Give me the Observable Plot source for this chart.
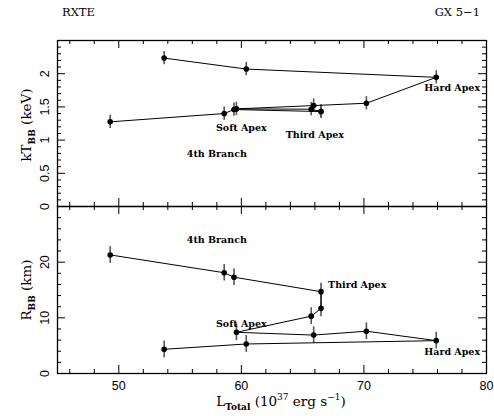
<!DOCTYPE html>
<html><head><meta charset="utf-8">
<script src="https://cdn.jsdelivr.net/npm/d3@7"></script>
<script src="https://cdn.jsdelivr.net/npm/@observablehq/plot@0.6"></script>
<style>
body{margin:0;background:#fff;}
#wrap{position:relative;width:494px;height:416px;overflow:hidden;background:#fff;}
#wrap svg{position:absolute;left:0;}
.t{position:absolute;font-family:"DejaVu Serif",serif;font-size:11.5px;color:#000;white-space:nowrap;line-height:1;}
.big{font-size:13.5px;}
.t sub,.t sup{font-size:9px;}
.t sub{font-weight:bold;vertical-align:-4px;}
.t sup{vertical-align:6px;}
.rot{transform:translate(-50%,-50%) rotate(-90deg);}
.ctr{transform:translate(-50%,-50%);}
</style></head><body><div id="wrap">
<div class="t" style="left:62px;top:7px;">RXTE</div>
<div class="t" style="right:14px;top:7px;">GX 5−1</div>
<div class="t big rot" style="left:28px;top:125px;">kT<sub>BB</sub> (keV)</div>
<div class="t big rot" style="left:28px;top:290px;">R<sub>BB</sub> (km)</div>
<div class="t big ctr" style="left:281px;top:402px;">L<sub>Total</sub> (10<sup>37</sup> erg s<sup>−1</sup>)</div>
</div>
<script>
// Data (sequence along the track)
const lum   = [53.7, 60.4, 75.9, 70.2, 65.9, 59.6, 65.7, 66.5, 66.5, 59.4, 58.6, 49.3];
const kT    = [2.235, 2.07, 1.945, 1.555, 1.52, 1.47, 1.465, 1.43, 1.43, 1.46, 1.40, 1.275];
const kTerr = [0.1, 0.1, 0.1, 0.1, 0.1, 0.1, 0.1, 0.1, 0.1, 0.1, 0.1, 0.1];
const rBB   = [4.35, 5.3, 5.9, 7.6, 6.9, 7.4, 10.3, 11.7, 14.7, 17.3, 18.1, 21.3];
const rErr  = [1.5, 1.5, 1.5, 1.5, 1.5, 1.5, 1.5, 1.5, 1.5, 1.5, 1.5, 1.5];

// Annotations
const noteText = ["Hard Apex", "Soft Apex", "Third Apex", "4th Branch"];
const noteXTop = [77.2, 60.0, 66.0, 58.0];
const noteYTop = [1.78, 1.19, 1.085, 0.785];
const noteXBot = [77.2, 60.0, 69.45, 58.0];
const noteYBot = [3.95, 8.9, 15.9, 24.0];

// Tick values
const xMajor = [50, 60, 70, 80];
const xMinor = [46, 48, 52, 54, 56, 58, 62, 64, 66, 68, 72, 74, 76, 78];
const yTopMajor = [0, 0.5, 1, 1.5, 2];
const yTopMinor = [0.1,0.2,0.3,0.4,0.6,0.7,0.8,0.9,1.1,1.2,1.3,1.4,1.6,1.7,1.8,1.9,2.1,2.2,2.3,2.4];
const yBotMajor = [0, 10, 20];
const yBotMinor = [2,4,6,8,12,14,16,18,22,24,26,28];

const W = 494, ML = 57, MR = 8;
const FW = W - ML - MR;
const sans = "Liberation Sans, Arial, sans-serif";
const serif = "DejaVu Serif, serif";

const pts = lum.map((x, i) => ({x, kT: kT[i], kTe: kTerr[i], r: rBB[i], re: rErr[i]}));
const notesTop = noteText.map((t, i) => ({t, x: noteXTop[i], y: noteYTop[i]}));
const notesBot = noteText.map((t, i) => ({t, x: noteXBot[i], y: noteYBot[i]}));

function panel({height, mt, mb, yDomain, yMajor, yMinor, yKey, eKey, notes, xLabels}) {
  const FH = height - mt - mb;
  const marks = [
    Plot.frame({stroke: "black", strokeWidth: 1.3}),
    Plot.tickX(xMajor, {x: d => d, insetTop: FH - 8, stroke: "black"}),
    Plot.tickX(xMajor, {x: d => d, insetBottom: FH - 8, stroke: "black"}),
    Plot.tickX(xMinor, {x: d => d, insetTop: FH - 4, stroke: "black"}),
    Plot.tickX(xMinor, {x: d => d, insetBottom: FH - 4, stroke: "black"}),
    Plot.tickY(yMajor, {y: d => d, insetRight: FW - 8, stroke: "black"}),
    Plot.tickY(yMajor, {y: d => d, insetLeft: FW - 8, stroke: "black"}),
    Plot.tickY(yMinor, {y: d => d, insetRight: FW - 4, stroke: "black"}),
    Plot.tickY(yMinor, {y: d => d, insetLeft: FW - 4, stroke: "black"}),
    Plot.text(yMajor, {y: d => d, text: d => String(d), frameAnchor: "left", dx: -13, rotate: -90,
      textAnchor: "middle", lineAnchor: "middle", fontFamily: sans, fontSize: 12.5, fill: "black"}),
    Plot.ruleX(pts, {x: "x", y1: d => d[yKey] - d[eKey], y2: d => d[yKey] + d[eKey], stroke: "#555", strokeWidth: 1.6}),
    Plot.line(pts, {x: "x", y: yKey, stroke: "black", strokeWidth: 1}),
    Plot.dot(pts, {x: "x", y: yKey, r: 2.8, fill: "black"}),
    Plot.text(notes, {x: "x", y: "y", text: "t", fontFamily: serif, fontWeight: "bold", fontSize: 9.5, fill: "black"})
  ];
  if (xLabels) {
    marks.push(Plot.text(xMajor, {x: d => d, text: d => String(d), frameAnchor: "bottom", dy: 12,
      lineAnchor: "middle", fontFamily: sans, fontSize: 12.5, fill: "black"}));
  }
  return Plot.plot({
    width: W, height, marginTop: mt, marginBottom: mb, marginLeft: ML, marginRight: MR,
    x: {domain: [45, 80], axis: null},
    y: {domain: yDomain, axis: null},
    style: {background: "transparent", overflow: "visible"},
    marks
  });
}

const topPlot = panel({height: 212, mt: 40, mb: 6, yDomain: [0, 2.5], yMajor: yTopMajor, yMinor: yTopMinor,
  yKey: "kT", eKey: "kTe", notes: notesTop, xLabels: false});
const botPlot = panel({height: 216, mt: 6, mb: 43, yDomain: [0, 30], yMajor: yBotMajor, yMinor: yBotMinor,
  yKey: "r", eKey: "re", notes: notesBot, xLabels: true});

const wrap = document.getElementById("wrap");
topPlot.style.top = "0px";
botPlot.style.top = "200px";
wrap.appendChild(botPlot);
wrap.appendChild(topPlot);
</script>
</body></html>
